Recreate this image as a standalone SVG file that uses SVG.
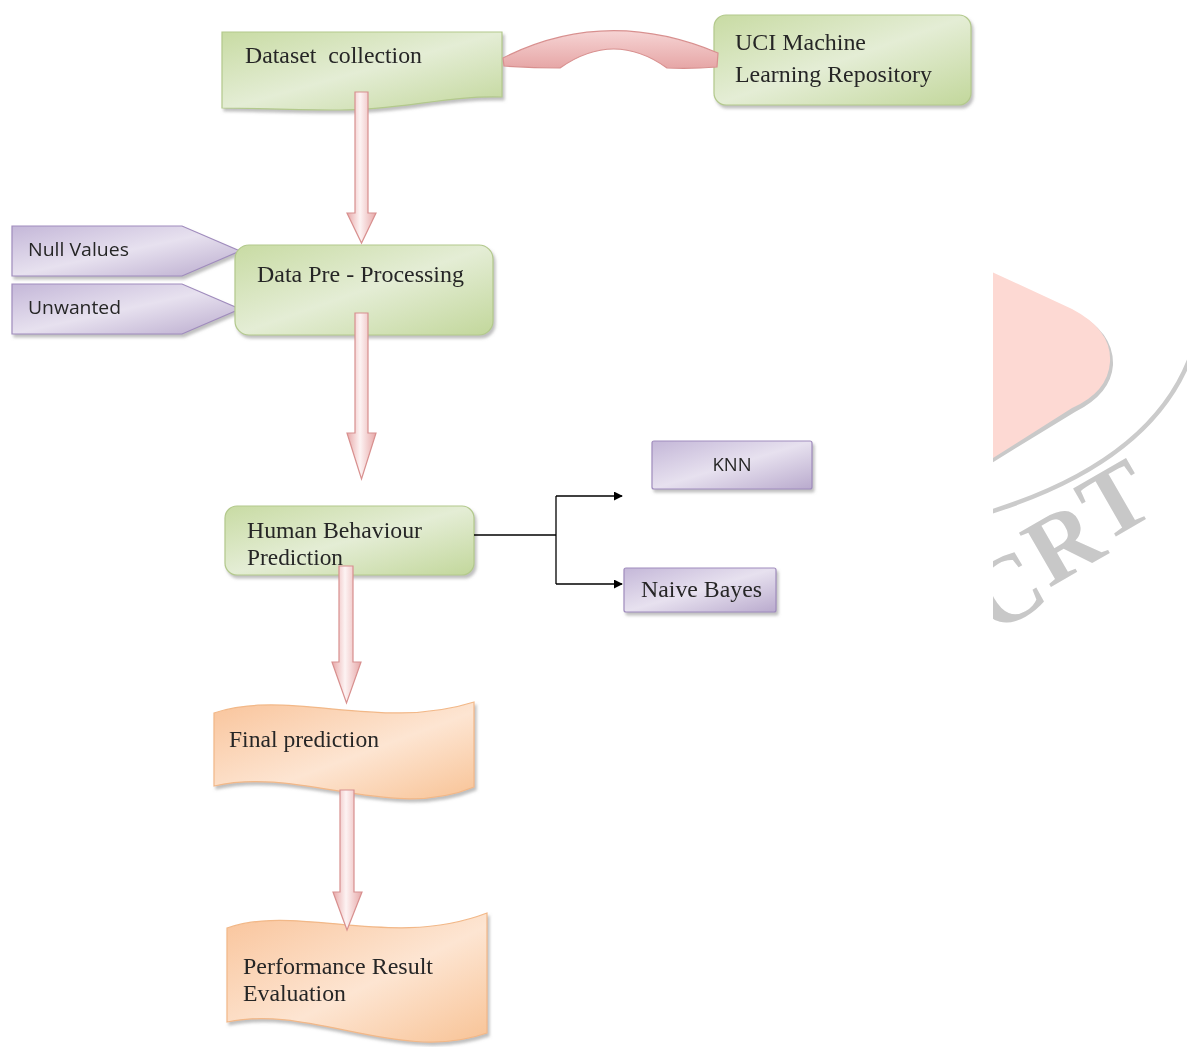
<svg xmlns="http://www.w3.org/2000/svg" width="1187" height="1047" viewBox="0 0 1187 1047">
<style>
.serif{font-family:"Liberation Serif","Times New Roman",serif;font-size:23.5px;fill:#262626}
.sans{font-family:"Open Sans","Liberation Sans",sans-serif;font-size:19px;fill:#262626}
.green{fill:url(#gGreen);stroke:#b3c98c;stroke-width:1.2}
.purple{fill:url(#gPurple);stroke:#a08cbd;stroke-width:1.2}
.orange{fill:url(#gOrange);stroke:#f2b888;stroke-width:1.2}
.blk{fill:url(#gArrow);stroke:#d8908f;stroke-width:1.2}
.line{fill:none;stroke:#000;stroke-width:1.3}
</style>
<defs>
<linearGradient id="gGreen" x1="0" y1="0" x2="1" y2="1">
<stop offset="0" stop-color="#c8dba3"/><stop offset="0.5" stop-color="#e4edd5"/><stop offset="1" stop-color="#c2d79b"/>
</linearGradient>
<linearGradient id="gPurple" x1="0" y1="0" x2="1" y2="1">
<stop offset="0" stop-color="#c4b7d8"/><stop offset="0.5" stop-color="#e7e1ef"/><stop offset="1" stop-color="#b9aacd"/>
</linearGradient>
<linearGradient id="gOrange" x1="0" y1="0" x2="1" y2="1">
<stop offset="0" stop-color="#f9c49b"/><stop offset="0.55" stop-color="#fde5d2"/><stop offset="1" stop-color="#f8c396"/>
</linearGradient>
<linearGradient id="gArrow" x1="0" y1="0" x2="1" y2="0">
<stop offset="0" stop-color="#e7a8a8"/><stop offset="0.45" stop-color="#fdf3f3"/><stop offset="1" stop-color="#e7a8a8"/>
</linearGradient>
<linearGradient id="gBand" x1="0" y1="0" x2="0" y2="1">
<stop offset="0" stop-color="#f6d4d4"/><stop offset="1" stop-color="#e6a6a6"/>
</linearGradient>
<filter id="sh" x="-10%" y="-10%" width="130%" height="140%">
<feDropShadow dx="2" dy="3" stdDeviation="1.6" flood-color="#8a8a8a" flood-opacity="0.55"/>
</filter>
<marker id="ah" viewBox="0 0 10 10" refX="9" refY="5" markerWidth="9" markerHeight="9" markerUnits="userSpaceOnUse" orient="auto">
<path d="M0,0 L10,5 L0,10 Z" fill="#000"/>
</marker>
<clipPath id="wmClip"><rect x="993" y="200" width="194" height="450"/></clipPath>
</defs>
<rect width="1187" height="1047" fill="#fff"/>

<g id="watermark" clip-path="url(#wmClip)">
<path d="M990,275 L1075,312 Q1114,332 1113,365 Q1111,394 1075,412 L990,464 Z" fill="#c9c9c9"/>
<path d="M990,271 L1072,309 Q1112,330 1110,362 Q1108,392 1072,408 L990,460 Z" fill="#fdd9d3"/>
<path d="M1190,358 Q1150,462 990,512" fill="none" stroke="#cbcbcb" stroke-width="4.5"/>
<g font-family="Liberation Serif, serif" font-weight="bold" font-size="96" fill="#c8c8c8" text-anchor="middle">
<text transform="translate(1115,500) rotate(-30)" y="32">T</text>
<text transform="translate(1063,543) rotate(-30)" y="32">R</text>
<text transform="translate(1006,590) rotate(-30)" y="32">C</text>
</g>
</g>

<g id="node-dataset" filter="url(#sh)">
<path class="green" d="M222,32 H502 V97 C450,95 400,110 340,110 C290,110 255,108 222,108 Z"/>
<text class="serif" x="245" y="63" xml:space="preserve" style="white-space:pre" textLength="177" lengthAdjust="spacingAndGlyphs">Dataset  collection</text>
</g>

<g id="node-uci" filter="url(#sh)">
<rect class="green" x="714" y="15" width="257" height="90" rx="12"/>
<text class="serif" x="735" y="50" textLength="131" lengthAdjust="spacingAndGlyphs">UCI Machine</text>
<text class="serif" x="735" y="82" textLength="197" lengthAdjust="spacingAndGlyphs">Learning Repository</text>
</g>

<g id="node-null" filter="url(#sh)">
<path class="purple" d="M12,226 H182 L240,251 L182,276 H12 Z"/>
<text class="sans" x="28" y="256" textLength="101" lengthAdjust="spacingAndGlyphs">Null Values</text>
</g>

<g id="node-unwanted" filter="url(#sh)">
<path class="purple" d="M12,284 H182 L240,309 L182,334 H12 Z"/>
<text class="sans" x="28" y="314" textLength="93" lengthAdjust="spacingAndGlyphs">Unwanted</text>
</g>

<g id="node-preprocessing" filter="url(#sh)">
<rect class="green" x="235" y="245" width="258" height="90" rx="14"/>
<text class="serif" x="257" y="282" textLength="207" lengthAdjust="spacingAndGlyphs">Data Pre - Processing</text>
</g>

<g id="node-human" filter="url(#sh)">
<rect class="green" x="225" y="506" width="249" height="69" rx="12"/>
<text class="serif" x="247" y="538" textLength="175" lengthAdjust="spacingAndGlyphs">Human Behaviour</text>
<text class="serif" x="247" y="565" textLength="96" lengthAdjust="spacingAndGlyphs">Prediction</text>
</g>

<g id="node-knn" filter="url(#sh)">
<rect class="purple" x="652" y="441" width="160" height="48" rx="2"/>
<text class="sans" x="732" y="471" text-anchor="middle" style="font-size:18.5px" textLength="39" lengthAdjust="spacingAndGlyphs">KNN</text>
</g>

<g id="node-naive" filter="url(#sh)">
<rect class="purple" x="624" y="568" width="152" height="44" rx="2"/>
<text class="serif" x="641" y="597" textLength="121" lengthAdjust="spacingAndGlyphs">Naive Bayes</text>
</g>

<g id="node-final" filter="url(#sh)">
<path class="orange" d="M214,713 C290,688 380,732 474,702 L474,787 C390,822 300,766 214,786 Z"/>
<text class="serif" x="229" y="747" textLength="150" lengthAdjust="spacingAndGlyphs">Final prediction</text>
</g>

<g id="node-performance" filter="url(#sh)">
<path class="orange" d="M227,928 C300,903 390,950 487,913 L487,1033 C400,1064 310,1004 227,1022 Z"/>
<text class="serif" x="243" y="974" textLength="190" lengthAdjust="spacingAndGlyphs">Performance Result</text>
<text class="serif" x="243" y="1001" textLength="103" lengthAdjust="spacingAndGlyphs">Evaluation</text>
</g>

<g id="connectors">
<path fill="url(#gBand)" stroke="#d8908f" stroke-width="1.2" d="M503,58 Q606,6 718,53 L717,67 Q692,69 667,68 Q614,30 560,68 Q532,68 504,66 Z"/>
<path class="blk" d="M355,92 H368 V213 H376 L361.5,243 L347,213 H355 Z"/>
<path class="blk" d="M355,313 H368 V433 H376 L361.5,479 L347,433 H355 Z"/>
<path class="blk" d="M339,566 H353 V662 H361 L346.5,703 L332,662 H339 Z"/>
<path class="blk" d="M340,790 H354 V892 H362 L347,930 L333,892 H340 Z"/>
<path class="line" d="M474,535 H556"/>
<path class="line" d="M556,496 V584"/>
<path class="line" d="M556,496 H622" marker-end="url(#ah)"/>
<path class="line" d="M556,584 H622" marker-end="url(#ah)"/>
</g>
</svg>
